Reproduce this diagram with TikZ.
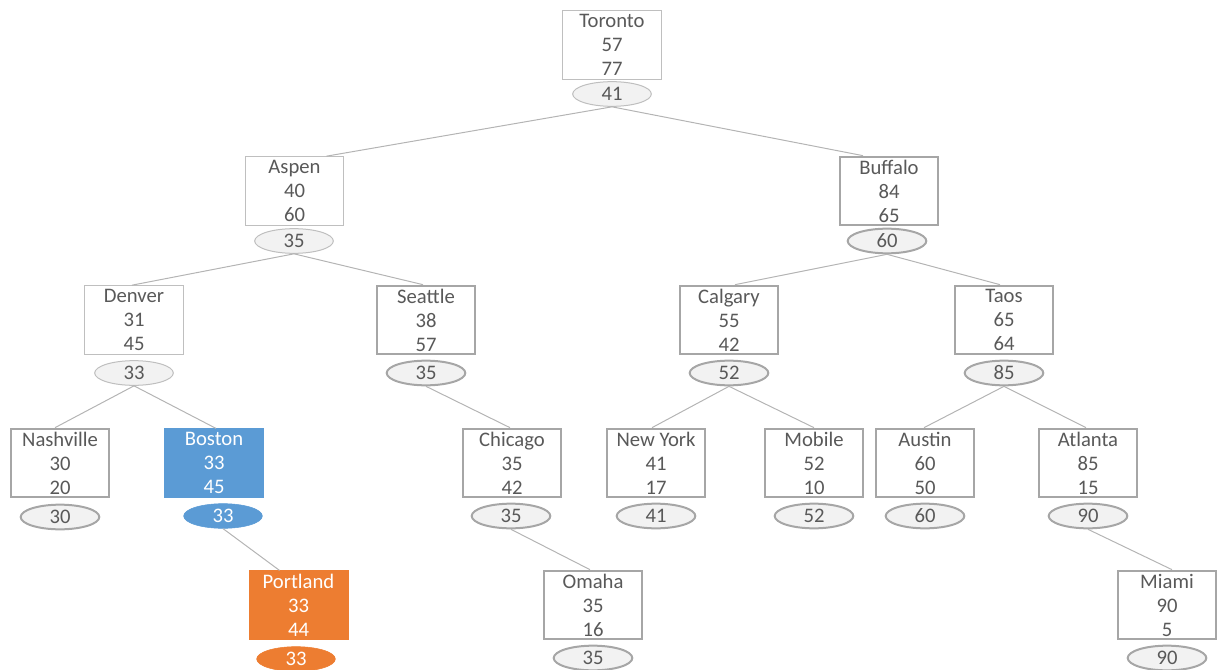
\documentclass[tikz,border=0pt]{standalone}
\usepackage{fontspec}
\setmainfont{Carlito}
\usetikzlibrary{shapes.geometric,calc}
\definecolor{txt}{HTML}{595959}
\definecolor{lightline}{HTML}{BFBFBF}
\definecolor{darkline}{HTML}{A6A6A6}
\definecolor{ovalfill}{HTML}{F2F2F2}
\definecolor{linkline}{HTML}{B4B4B4}
\definecolor{bluecell}{HTML}{5B9BD5}
\definecolor{orangecell}{HTML}{ED7D31}
\newcommand\cellfont{\fontsize{15.5}{18}\selectfont}
\tikzset{
  box/.style={rectangle, minimum width=74pt, minimum height=51.5pt, inner sep=0pt,
    fill=white, align=center, font=\cellfont, text=txt},
  lbox/.style={box, draw=lightline, line width=0.75pt},
  dbox/.style={box, draw=darkline, line width=1.5pt},
  oval/.style={ellipse, minimum width=59pt, minimum height=18.5pt, inner sep=0pt,
    fill=ovalfill, font=\cellfont, text=txt},
  lell/.style={oval, draw=lightline, line width=0.75pt},
  dell/.style={oval, draw=darkline, line width=1.5pt},
  bluebox/.style={box, fill=bluecell, draw=bluecell, text=white},
  blueell/.style={oval, fill=bluecell, draw=bluecell, text=white},
  orangebox/.style={box, fill=orangecell, draw=orangecell, text=white},
  orangeell/.style={oval, fill=orangecell, draw=orangecell, text=white},
  link/.style={draw=linkline, line width=0.75pt},
}
\begin{document}
\begin{tikzpicture}[x=0.75pt, y=-0.75pt]
\useasboundingbox (0,0) rectangle (1226,670);

% level 0
\node[lbox] (toronto) at (612,45) {Toronto\\57\\77};
\node[lell] (torontoE) at (612,94) {41};

% level 1
\node[lbox] (aspen) at (294.5,191) {Aspen\\40\\60};
\node[lell] (aspenE) at (294,241) {35};
\node[dbox] (buffalo) at (889,191) {Buffalo\\84\\65};
\node[dell] (buffaloE) at (887,241) {60};

% level 2
\node[lbox] (denver) at (134,320) {Denver\\31\\45};
\node[lell] (denverE) at (134,373) {33};
\node[dbox] (seattle) at (426,320) {Seattle\\38\\57};
\node[dell] (seattleE) at (426,373) {35};
\node[dbox] (calgary) at (729,320) {Calgary\\55\\42};
\node[dell] (calgaryE) at (729,373) {52};
\node[dbox] (taos) at (1004,320) {Taos\\65\\64};
\node[dell] (taosE) at (1004,373) {85};

% level 3
\node[dbox] (nashville) at (60,463) {Nashville\\30\\20};
\node[dell] (nashvilleE) at (60,517) {30};
\node[bluebox] (boston) at (214,463) {Boston\\33\\45};
\node[blueell] (bostonE) at (223,516) {33};
\node[dbox] (chicago) at (512,463) {Chicago\\35\\42};
\node[dell] (chicagoE) at (511,516) {35};
\node[dbox] (newyork) at (656,463) {New York\\41\\17};
\node[dell] (newyorkE) at (656,516) {41};
\node[dbox] (mobile) at (814,463) {Mobile\\52\\10};
\node[dell] (mobileE) at (814,516) {52};
\node[dbox] (austin) at (925,463) {Austin\\60\\50};
\node[dell] (austinE) at (925,516) {60};
\node[dbox] (atlanta) at (1088,463) {Atlanta\\85\\15};
\node[dell] (atlantaE) at (1088,516) {90};

% level 4
\node[orangebox] (portland) at (298.5,605) {Portland\\33\\44};
\node[orangeell] (portlandE) at (296,659) {33};
\node[dbox] (omaha) at (593,605) {Omaha\\35\\16};
\node[dell] (omahaE) at (593,658) {35};
\node[dbox] (miami) at (1167,605) {Miami\\90\\5};
\node[dell] (miamiE) at (1167,658) {90};

% tree links: parent value oval to child box
\draw[link] (torontoE.south) -- ($(aspen.north)+(32,0)$);
\draw[link] (torontoE.south) -- ($(buffalo.north)+(-26,0)$);
\draw[link] (aspenE.south) -- ($(denver.north)+(-2,0)$);
\draw[link] (aspenE.south) -- ($(seattle.north)+(-3,0)$);
\draw[link] (buffaloE.south) -- ($(calgary.north)+(6,0)$);
\draw[link] (buffaloE.south) -- ($(taos.north)+(-4,0)$);
\draw[link] (denverE.south) -- ($(nashville.north)+(-5,0)$);
\draw[link] (denverE.south) -- ($(boston.north)+(2,0)$);
\draw[link] (seattleE.south) -- ($(chicago.north)+(-2,0)$);
\draw[link] (calgaryE.south) -- ($(newyork.north)+(-4,0)$);
\draw[link] (calgaryE.south) -- (mobile.north);
\draw[link] (taosE.south) -- ($(austin.north)+(-1,0)$);
\draw[link] (taosE.south) -- ($(atlanta.north)+(-2,0)$);
\draw[link] (bostonE.south) -- ($(portland.north)+(-19,0)$);
\draw[link] (chicagoE.south) -- ($(omaha.north)+(-3,0)$);
\draw[link] (atlantaE.south) -- ($(miami.north)+(5,0)$);
\end{tikzpicture}
\end{document}
